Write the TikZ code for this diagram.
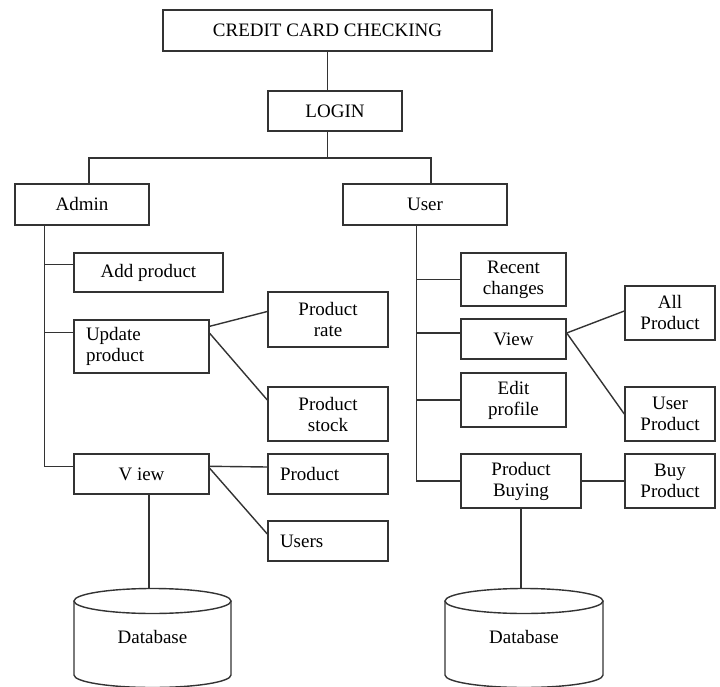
\documentclass[tikz,border=0pt]{standalone}
\usepackage{fontspec}
\setmainfont{Liberation Serif}
\begin{document}
\begin{tikzpicture}[x=1pt, y=-1pt,
  box/.style={rectangle, draw=black!80, line width=1.4pt, inner sep=2pt, align=center, font=\fontsize{19}{21}\selectfont},
  lbox/.style={box, align=left, inner xsep=12pt},
  link/.style={draw=black!80, line width=1.4pt},
  dbtext/.style={font=\fontsize{19}{21}\selectfont}]
\useasboundingbox (0,0) rectangle (720,687);
\node[box, minimum width=329pt, minimum height=41pt] (title) at (327.5,30.5) {CREDIT CARD CHECKING};
\node[box, minimum width=134pt, minimum height=40pt] (login) at (335,111) {LOGIN};
\node[box, minimum width=134pt, minimum height=41pt] (admin) at (82,204.5) {Admin};
\node[box, minimum width=164pt, minimum height=41pt] (user) at (425,204.5) {User};

\node[box, minimum width=149pt, minimum height=39pt] (addprod) at (148.5,272.5) {Add product};
\node[lbox, text width=111pt, inner xsep=12pt, minimum height=53pt] (updprod) at (141.5,346.5) {Update\\product};
\node[box, minimum width=120pt, minimum height=55pt] (prodrate) at (328,319.5) {Product\\rate};
\node[box, minimum width=120pt, minimum height=54pt] (prodstock) at (328,414) {Product\\stock};
\node[box, minimum width=135pt, minimum height=40pt] (viewA) at (141.5,474) {V iew};
\node[lbox, text width=96pt, minimum height=40pt] (product) at (328,474) {Product};
\node[lbox, text width=96pt, minimum height=40pt] (users) at (328,541) {Users};

\node[box, minimum width=105pt, minimum height=53pt] (recent) at (513.5,279.5) {Recent\\changes};
\node[box, minimum width=105pt, minimum height=40pt] (viewU) at (513.5,339) {View};
\node[box, minimum width=105pt, minimum height=54pt] (edit) at (513.5,400) {Edit\\profile};
\node[box, minimum width=90pt, minimum height=54pt] (allprod) at (670,313) {All\\Product};
\node[box, minimum width=90pt, minimum height=54pt] (userprod) at (670,414) {User\\Product};
\node[box, minimum width=120pt, minimum height=54pt] (buying) at (521,481) {Product\\Buying};
\node[box, minimum width=90pt, minimum height=54pt] (buyprod) at (670,481) {Buy\\Product};

\node[dbtext] (dbA) at (152.5,637) {Database};
\node[dbtext] (dbU) at (524,637) {Database};
\draw[link] (152.5,601) ellipse [x radius=78.5, y radius=12.5];
\draw[link] (74,601) -- (74,675) arc [start angle=180, end angle=0, x radius=78.5, y radius=12.5] -- (231,601);
\draw[link] (524,601) ellipse [x radius=79, y radius=12.5];
\draw[link] (445,601) -- (445,675) arc [start angle=180, end angle=0, x radius=79, y radius=12.5] -- (603,601);

\coordinate (split) at (327.5,158);
\coordinate (trunkA) at ([xshift=30pt]admin.south west);
\coordinate (trunkU) at ([xshift=74pt]user.south west);
\coordinate (dbAtop) at (149,588);
\coordinate (dbUtop) at (521,588);

\draw[link] (title.south) -- (title.south |- login.north);
\draw[link] (title.south |- login.south) -- (split);
\draw[link] ([xshift=7pt]admin.north) |- (split) -| ([xshift=6pt]user.north);

\draw[link] (trunkA) |- ([yshift=-13pt]viewA.north west);
\draw[link] (trunkA) |- ([yshift=-12pt]addprod.north west);
\draw[link] (trunkA) |- ([yshift=-13pt]updprod.north west);
\draw[link] ([yshift=-7pt]updprod.north east) -- ([yshift=8pt]prodrate.west);
\draw[link] ([yshift=-14pt]updprod.north east) -- ([yshift=14pt]prodstock.west);
\draw[link] ([yshift=-13pt]viewA.north east) -- ([yshift=7pt]product.west);
\draw[link] ([yshift=-15pt]viewA.north east) -- ([yshift=7pt]users.west);
\draw[link] (viewA.south -| dbAtop) -- (dbAtop);

\draw[link] (trunkU) |- (buying.west);
\draw[link] (trunkU) |- (recent.west);
\draw[link] (trunkU) |- ([yshift=6pt]viewU.west);
\draw[link] (trunkU) |- (edit.west);
\draw[link] ([yshift=6pt]viewU.east) -- ([yshift=2pt]allprod.west);
\draw[link] ([yshift=6pt]viewU.east) -- (userprod.west);
\draw[link] (buying.east) -- (buyprod.west);
\draw[link] (buying.south) -- (dbUtop);
\end{tikzpicture}
\end{document}
